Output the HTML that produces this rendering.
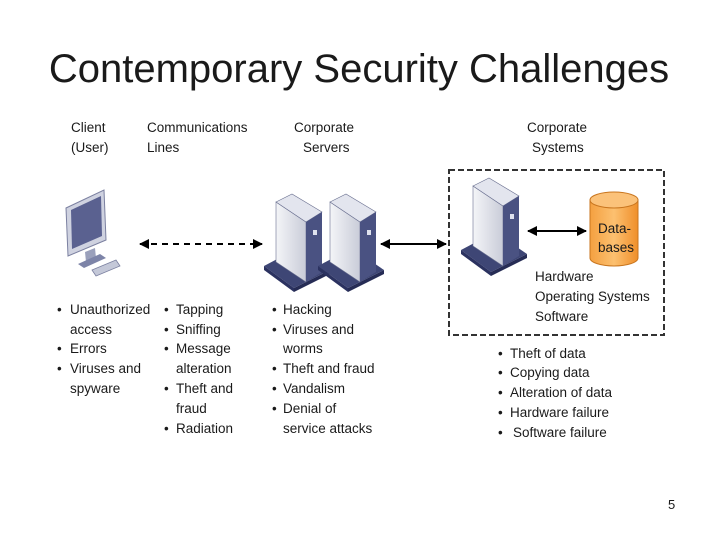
<!DOCTYPE html>
<html><head><meta charset="utf-8"><style>
html,body{margin:0;padding:0;background:#fff;}
svg{display:block;}
text{font-family:"Liberation Sans",sans-serif;fill:#1a1a1a;}
.t{font-size:13.5px;}
</style></head><body>
<svg width="720" height="540" viewBox="0 0 720 540" xmlns="http://www.w3.org/2000/svg">
<defs>
<linearGradient id="front" x1="0" x2="1"><stop offset="0" stop-color="#f4f5f8"/><stop offset="1" stop-color="#c9ccd8"/></linearGradient>
<linearGradient id="cyl" x1="0" x2="1"><stop offset="0" stop-color="#f4a040"/><stop offset="0.5" stop-color="#fcc070"/><stop offset="1" stop-color="#ef8f2a"/></linearGradient>
<marker id="ah" markerWidth="10" markerHeight="10" refX="9" refY="5" orient="auto-start-reverse" markerUnits="userSpaceOnUse"><path d="M0,0 L10,5 L0,10 z" fill="#000"/></marker>
<g id="srv">
<path d="M-12,72 L18,94 L54,76 L22,54 z" fill="#3e4675"/>
<path d="M-12,72 L-12,76 L18,98 L18,94 z" fill="#2b3260"/>
<path d="M18,98 L54,80 L54,76 L18,94 z" fill="#262c55"/>
<path d="M0,8 L30,28 L30,88 L0,68 z" fill="url(#front)" stroke="#6a7090" stroke-width="0.6"/>
<path d="M0,8 L16,0 L46,18 L30,28 z" fill="#e3e5ee" stroke="#6a7090" stroke-width="0.6"/>
<path d="M30,28 L46,18 L46,78 L30,88 z" fill="#4a5282"/>
<rect x="37" y="36" width="4" height="5" fill="#dfe2ee"/>
</g>
</defs>
<text x="359" y="82" text-anchor="middle" font-size="40">Contemporary Security Challenges</text>

<g class="t">
<text x="71" y="132">Client</text><text x="71" y="152">(User)</text>
<text x="147" y="132">Communications</text><text x="147" y="152">Lines</text>
<text x="294" y="132">Corporate</text><text x="303" y="152">Servers</text>
<text x="527" y="132">Corporate</text><text x="532" y="152">Systems</text>
</g>

<path d="M66,208 L104,190 L106,240 L68,256 z" fill="#cfd2e0" stroke="#7b80a0"/>
<path d="M71,210 L101,196 L102,236 L72,249 z" fill="#5a6190"/>
<path d="M85,252 L95,248 L96,258 L86,262 z" fill="#9aa0bb"/>
<path d="M78,264 L100,254 L106,258 L84,268 z" fill="#7d84a8"/>
<path d="M92,270 L116,260 L120,266 L96,276 z" fill="#c4c8d8" stroke="#7b80a0" stroke-width="0.8"/>

<use href="#srv" x="276" y="194"/>
<use href="#srv" x="330" y="194"/>
<use href="#srv" x="473" y="178"/>

<line x1="140" y1="244" x2="262" y2="244" stroke="#000" stroke-width="2" stroke-dasharray="6,5" marker-start="url(#ah)" marker-end="url(#ah)"/>
<line x1="381" y1="244" x2="446" y2="244" stroke="#000" stroke-width="2" marker-start="url(#ah)" marker-end="url(#ah)"/>
<line x1="528" y1="231" x2="586" y2="231" stroke="#000" stroke-width="2" marker-start="url(#ah)" marker-end="url(#ah)"/>

<rect x="449" y="170" width="215" height="165" fill="none" stroke="#333" stroke-width="2" stroke-dasharray="6,3"/>

<path d="M590,200 L590,258 A24,8 0 0 0 638,258 L638,200 z" fill="url(#cyl)" stroke="#c9761f"/>
<ellipse cx="614" cy="200" rx="24" ry="8" fill="#fbc27a" stroke="#c9761f"/>
<text class="t" x="598" y="233">Data-</text>
<text class="t" x="598" y="252">bases</text>

<g class="t">
<text x="535" y="281">Hardware</text>
<text x="535" y="301">Operating Systems</text>
<text x="535" y="321">Software</text>
</g>

<g class="t">
<text x="57" y="314">•</text><text x="70" y="314">Unauthorized</text>
<text x="70" y="334">access</text>
<text x="57" y="353">•</text><text x="70" y="353">Errors</text>
<text x="57" y="373">•</text><text x="70" y="373">Viruses and</text>
<text x="70" y="393">spyware</text>

<text x="164" y="314">•</text><text x="176" y="314">Tapping</text>
<text x="164" y="334">•</text><text x="176" y="334">Sniffing</text>
<text x="164" y="353">•</text><text x="176" y="353">Message</text>
<text x="176" y="373">alteration</text>
<text x="164" y="393">•</text><text x="176" y="393">Theft and</text>
<text x="176" y="413">fraud</text>
<text x="164" y="433">•</text><text x="176" y="433">Radiation</text>

<text x="272" y="314">•</text><text x="283" y="314">Hacking</text>
<text x="272" y="334">•</text><text x="283" y="334">Viruses and</text>
<text x="283" y="353">worms</text>
<text x="272" y="373">•</text><text x="283" y="373">Theft and fraud</text>
<text x="272" y="393">•</text><text x="283" y="393">Vandalism</text>
<text x="272" y="413">•</text><text x="283" y="413">Denial of</text>
<text x="283" y="433">service attacks</text>

<text x="498" y="358">•</text><text x="510" y="358">Theft of data</text>
<text x="498" y="377">•</text><text x="510" y="377">Copying data</text>
<text x="498" y="397">•</text><text x="510" y="397">Alteration of data</text>
<text x="498" y="417">•</text><text x="510" y="417">Hardware failure</text>
<text x="498" y="437">•</text><text x="513" y="437">Software failure</text>
</g>

<text x="668" y="509" font-size="13">5</text>
</svg>
</body></html>
